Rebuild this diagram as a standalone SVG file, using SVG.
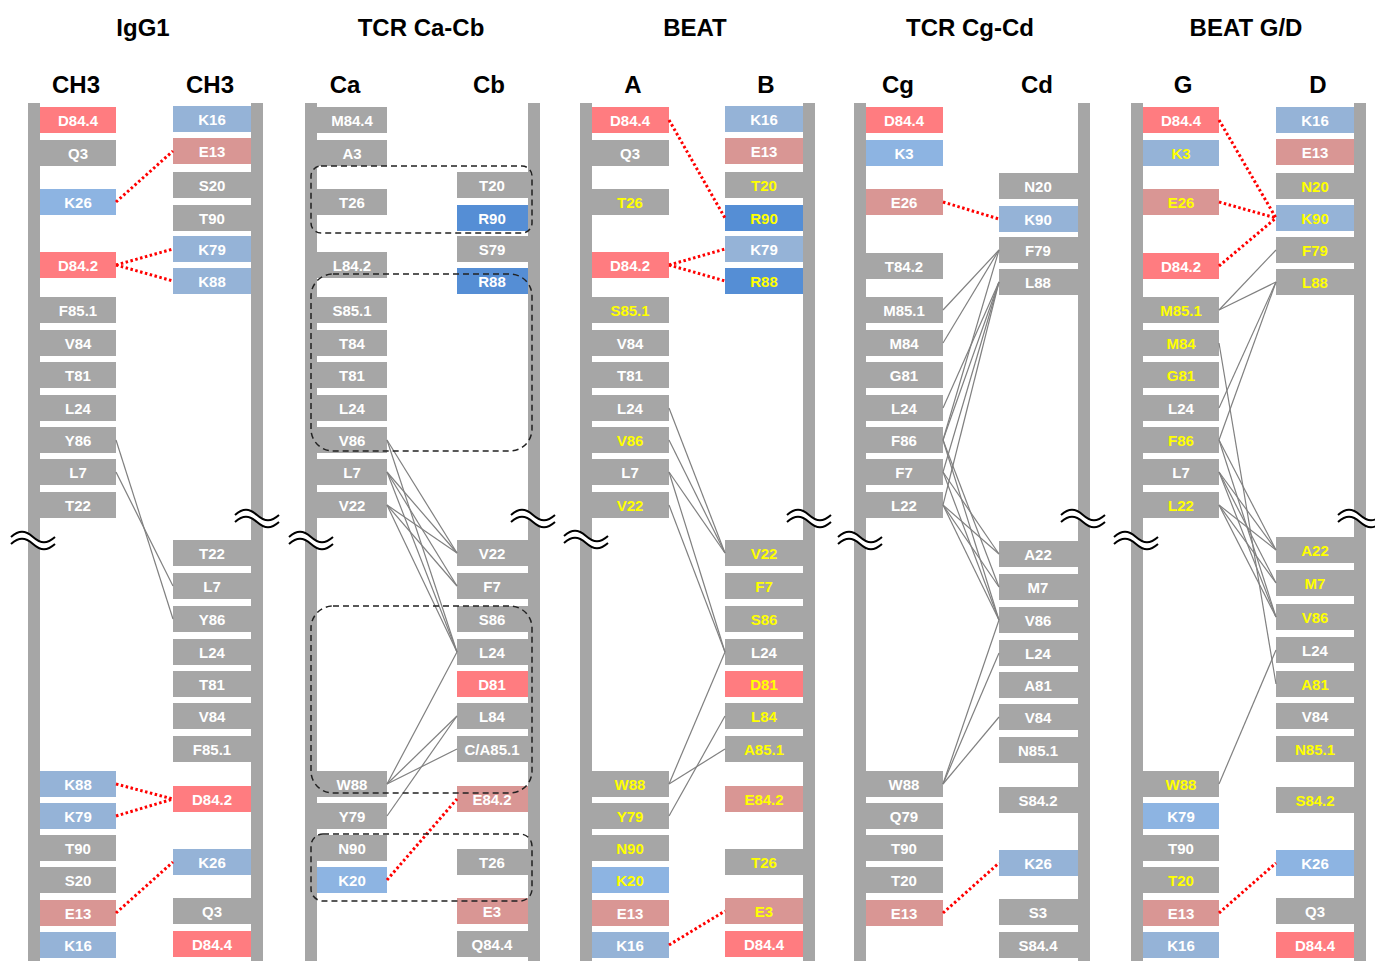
<svg xmlns="http://www.w3.org/2000/svg" xmlns:xlink="http://www.w3.org/1999/xlink" width="1375" height="961" viewBox="0 0 1375 961">
<style>
.bar{fill:#A6A6A6}
.g{fill:#A6A6A6}.r{fill:#FF7C80}.m{fill:#D99694}.lb{fill:#95B3D7}.b{fill:#8DB4E2}.db{fill:#558ED5}
text{font-family:"Liberation Sans",Arial,sans-serif;font-weight:bold;text-anchor:middle;dominant-baseline:central}
.t{font-size:15px;fill:#FFFFFF}
.y{fill:#FFFF00}
.h1{font-size:24px;fill:#000}
.h2{font-size:24px;fill:#000}
.dot{stroke:#FF0000;stroke-width:3;stroke-dasharray:2.5 2.5;fill:none}
.ln{stroke:#808080;stroke-width:1.2;fill:none}
.dash{stroke:#222;stroke-width:1.5;stroke-dasharray:6 4;fill:none}
</style>
<defs>
<g id="brk">
<path d="M0,-3 C8,-10 14,-10 22,-3 C30,4 36,4 44,-3 L44,4 C36,11 30,11 22,4 C14,-3 8,-3 0,4 Z" fill="#fff"/>
<path d="M0,-3 C8,-10 14,-10 22,-3 C30,4 36,4 44,-3 M0,4 C8,-3 14,-3 22,4 C30,11 36,11 44,4" stroke="#000" stroke-width="2" fill="none"/>
</g>
</defs>
<rect width="1375" height="961" fill="#fff"/>

<!-- headers -->
<g id="titles">
<text class="h1" x="143" y="27">IgG1</text>
<text class="h1" x="421" y="27">TCR Ca-Cb</text>
<text class="h1" x="695" y="27">BEAT</text>
<text class="h1" x="970" y="27">TCR Cg-Cd</text>
<text class="h1" x="1246" y="27">BEAT G/D</text>
<text class="h2" x="76" y="84">CH3</text><text class="h2" x="210" y="84">CH3</text>
<text class="h2" x="345" y="84">Ca</text><text class="h2" x="489" y="84">Cb</text>
<text class="h2" x="633" y="84">A</text><text class="h2" x="766" y="84">B</text>
<text class="h2" x="898" y="84">Cg</text><text class="h2" x="1037" y="84">Cd</text>
<text class="h2" x="1183" y="84">G</text><text class="h2" x="1318" y="84">D</text>
</g>

<!-- bars -->
<g id="bars">
<rect class="bar" x="28" y="103" width="12" height="858"/><rect class="bar" x="251" y="103" width="12" height="858"/>
<rect class="bar" x="305" y="103" width="12" height="858"/><rect class="bar" x="528" y="103" width="12" height="858"/>
<rect class="bar" x="580" y="103" width="12" height="858"/><rect class="bar" x="803" y="103" width="12" height="858"/>
<rect class="bar" x="854" y="103" width="12" height="858"/><rect class="bar" x="1078" y="103" width="12" height="858"/>
<rect class="bar" x="1131" y="103" width="12" height="858"/><rect class="bar" x="1354" y="103" width="12" height="858"/>
</g>

<!-- Panel 1 IgG1 -->
<g id="p1L-D84.4"><rect class="r" x="40" y="107" width="76" height="26"/><text class="t" x="78" y="120">D84.4</text></g>
<g id="p1L-Q3"><rect class="g" x="40" y="140" width="76" height="26"/><text class="t" x="78" y="153">Q3</text></g>
<g id="p1L-K26"><rect class="b" x="40" y="189" width="76" height="26"/><text class="t" x="78" y="202">K26</text></g>
<g id="p1L-D84.2"><rect class="r" x="40" y="252" width="76" height="26"/><text class="t" x="78" y="265">D84.2</text></g>
<g id="p1L-F85.1"><rect class="g" x="40" y="297" width="76" height="26"/><text class="t" x="78" y="310">F85.1</text></g>
<g id="p1L-V84"><rect class="g" x="40" y="330" width="76" height="26"/><text class="t" x="78" y="343">V84</text></g>
<g id="p1L-T81"><rect class="g" x="40" y="362" width="76" height="26"/><text class="t" x="78" y="375">T81</text></g>
<g id="p1L-L24"><rect class="g" x="40" y="395" width="76" height="26"/><text class="t" x="78" y="408">L24</text></g>
<g id="p1L-Y86"><rect class="g" x="40" y="427" width="76" height="26"/><text class="t" x="78" y="440">Y86</text></g>
<g id="p1L-L7"><rect class="g" x="40" y="459" width="76" height="26"/><text class="t" x="78" y="472">L7</text></g>
<g id="p1L-T22"><rect class="g" x="40" y="492" width="76" height="26"/><text class="t" x="78" y="505">T22</text></g>
<g id="p1L-K88"><rect class="lb" x="40" y="771" width="76" height="26"/><text class="t" x="78" y="784">K88</text></g>
<g id="p1L-K79"><rect class="lb" x="40" y="803" width="76" height="26"/><text class="t" x="78" y="816">K79</text></g>
<g id="p1L-T90"><rect class="g" x="40" y="835" width="76" height="26"/><text class="t" x="78" y="848">T90</text></g>
<g id="p1L-S20"><rect class="g" x="40" y="867" width="76" height="26"/><text class="t" x="78" y="880">S20</text></g>
<g id="p1L-E13"><rect class="m" x="40" y="900" width="76" height="26"/><text class="t" x="78" y="913">E13</text></g>
<g id="p1L-K16"><rect class="lb" x="40" y="932" width="76" height="26"/><text class="t" x="78" y="945">K16</text></g>

<g id="p1R-K16"><rect class="lb" x="173" y="106" width="78" height="26"/><text class="t" x="212" y="119">K16</text></g>
<g id="p1R-E13"><rect class="m" x="173" y="138" width="78" height="26"/><text class="t" x="212" y="151">E13</text></g>
<g id="p1R-S20"><rect class="g" x="173" y="172" width="78" height="26"/><text class="t" x="212" y="185">S20</text></g>
<g id="p1R-T90"><rect class="g" x="173" y="205" width="78" height="26"/><text class="t" x="212" y="218">T90</text></g>
<g id="p1R-K79"><rect class="lb" x="173" y="236" width="78" height="26"/><text class="t" x="212" y="249">K79</text></g>
<g id="p1R-K88"><rect class="lb" x="173" y="268" width="78" height="26"/><text class="t" x="212" y="281">K88</text></g>
<g id="p1R-T22"><rect class="g" x="173" y="540" width="78" height="26"/><text class="t" x="212" y="553">T22</text></g>
<g id="p1R-L7"><rect class="g" x="173" y="573" width="78" height="26"/><text class="t" x="212" y="586">L7</text></g>
<g id="p1R-Y86"><rect class="g" x="173" y="606" width="78" height="26"/><text class="t" x="212" y="619">Y86</text></g>
<g id="p1R-L24"><rect class="g" x="173" y="639" width="78" height="26"/><text class="t" x="212" y="652">L24</text></g>
<g id="p1R-T81"><rect class="g" x="173" y="671" width="78" height="26"/><text class="t" x="212" y="684">T81</text></g>
<g id="p1R-V84"><rect class="g" x="173" y="703" width="78" height="26"/><text class="t" x="212" y="716">V84</text></g>
<g id="p1R-F85.1"><rect class="g" x="173" y="736" width="78" height="26"/><text class="t" x="212" y="749">F85.1</text></g>
<g id="p1R-D84.2"><rect class="r" x="173" y="786" width="78" height="26"/><text class="t" x="212" y="799">D84.2</text></g>
<g id="p1R-K26"><rect class="lb" x="173" y="849" width="78" height="26"/><text class="t" x="212" y="862">K26</text></g>
<g id="p1R-Q3"><rect class="g" x="173" y="898" width="78" height="26"/><text class="t" x="212" y="911">Q3</text></g>
<g id="p1R-D84.4"><rect class="r" x="173" y="931" width="78" height="26"/><text class="t" x="212" y="944">D84.4</text></g>

<!-- Panel 2 TCR Ca-Cb -->
<g id="p2L-M84.4"><rect class="g" x="317" y="107" width="70" height="26"/><text class="t" x="352" y="120">M84.4</text></g>
<g id="p2L-A3"><rect class="g" x="317" y="140" width="70" height="26"/><text class="t" x="352" y="153">A3</text></g>
<g id="p2L-T26"><rect class="g" x="317" y="189" width="70" height="26"/><text class="t" x="352" y="202">T26</text></g>
<g id="p2L-L84.2"><rect class="g" x="317" y="252" width="70" height="26"/><text class="t" x="352" y="265">L84.2</text></g>
<g id="p2L-S85.1"><rect class="g" x="317" y="297" width="70" height="26"/><text class="t" x="352" y="310">S85.1</text></g>
<g id="p2L-T84"><rect class="g" x="317" y="330" width="70" height="26"/><text class="t" x="352" y="343">T84</text></g>
<g id="p2L-T81"><rect class="g" x="317" y="362" width="70" height="26"/><text class="t" x="352" y="375">T81</text></g>
<g id="p2L-L24"><rect class="g" x="317" y="395" width="70" height="26"/><text class="t" x="352" y="408">L24</text></g>
<g id="p2L-V86"><rect class="g" x="317" y="427" width="70" height="26"/><text class="t" x="352" y="440">V86</text></g>
<g id="p2L-L7"><rect class="g" x="317" y="459" width="70" height="26"/><text class="t" x="352" y="472">L7</text></g>
<g id="p2L-V22"><rect class="g" x="317" y="492" width="70" height="26"/><text class="t" x="352" y="505">V22</text></g>
<g id="p2L-W88"><rect class="g" x="317" y="771" width="70" height="26"/><text class="t" x="352" y="784">W88</text></g>
<g id="p2L-Y79"><rect class="g" x="317" y="803" width="70" height="26"/><text class="t" x="352" y="816">Y79</text></g>
<g id="p2L-N90"><rect class="g" x="317" y="835" width="70" height="26"/><text class="t" x="352" y="848">N90</text></g>
<g id="p2L-K20"><rect class="b" x="317" y="867" width="70" height="26"/><text class="t" x="352" y="880">K20</text></g>

<g id="p2R-T20"><rect class="g" x="457" y="172" width="71" height="26"/><text class="t" x="492" y="185">T20</text></g>
<g id="p2R-R90"><rect class="db" x="457" y="205" width="71" height="26"/><text class="t" x="492" y="218">R90</text></g>
<g id="p2R-S79"><rect class="g" x="457" y="236" width="71" height="26"/><text class="t" x="492" y="249">S79</text></g>
<g id="p2R-R88"><rect class="db" x="457" y="268" width="71" height="26"/><text class="t" x="492" y="281">R88</text></g>
<g id="p2R-V22"><rect class="g" x="457" y="540" width="71" height="26"/><text class="t" x="492" y="553">V22</text></g>
<g id="p2R-F7"><rect class="g" x="457" y="573" width="71" height="26"/><text class="t" x="492" y="586">F7</text></g>
<g id="p2R-S86"><rect class="g" x="457" y="606" width="71" height="26"/><text class="t" x="492" y="619">S86</text></g>
<g id="p2R-L24"><rect class="g" x="457" y="639" width="71" height="26"/><text class="t" x="492" y="652">L24</text></g>
<g id="p2R-D81"><rect class="r" x="457" y="671" width="71" height="26"/><text class="t" x="492" y="684">D81</text></g>
<g id="p2R-L84"><rect class="g" x="457" y="703" width="71" height="26"/><text class="t" x="492" y="716">L84</text></g>
<g id="p2R-CA85.1"><rect class="g" x="457" y="736" width="71" height="26"/><text class="t" x="492" y="749">C/A85.1</text></g>
<g id="p2R-E84.2"><rect class="m" x="457" y="786" width="71" height="26"/><text class="t" x="492" y="799">E84.2</text></g>
<g id="p2R-T26"><rect class="g" x="457" y="849" width="71" height="26"/><text class="t" x="492" y="862">T26</text></g>
<g id="p2R-E3"><rect class="m" x="457" y="898" width="71" height="26"/><text class="t" x="492" y="911">E3</text></g>
<g id="p2R-Q84.4"><rect class="g" x="457" y="931" width="71" height="26"/><text class="t" x="492" y="944">Q84.4</text></g>

<!-- Panel 3 BEAT -->
<g id="p3L-D84.4"><rect class="r" x="592" y="107" width="77" height="26"/><text class="t" x="630" y="120">D84.4</text></g>
<g id="p3L-Q3"><rect class="g" x="592" y="140" width="77" height="26"/><text class="t" x="630" y="153">Q3</text></g>
<g id="p3L-T26"><rect class="g" x="592" y="189" width="77" height="26"/><text class="t y" x="630" y="202">T26</text></g>
<g id="p3L-D84.2"><rect class="r" x="592" y="252" width="77" height="26"/><text class="t" x="630" y="265">D84.2</text></g>
<g id="p3L-S85.1"><rect class="g" x="592" y="297" width="77" height="26"/><text class="t y" x="630" y="310">S85.1</text></g>
<g id="p3L-V84"><rect class="g" x="592" y="330" width="77" height="26"/><text class="t" x="630" y="343">V84</text></g>
<g id="p3L-T81"><rect class="g" x="592" y="362" width="77" height="26"/><text class="t" x="630" y="375">T81</text></g>
<g id="p3L-L24"><rect class="g" x="592" y="395" width="77" height="26"/><text class="t" x="630" y="408">L24</text></g>
<g id="p3L-V86"><rect class="g" x="592" y="427" width="77" height="26"/><text class="t y" x="630" y="440">V86</text></g>
<g id="p3L-L7"><rect class="g" x="592" y="459" width="77" height="26"/><text class="t" x="630" y="472">L7</text></g>
<g id="p3L-V22"><rect class="g" x="592" y="492" width="77" height="26"/><text class="t y" x="630" y="505">V22</text></g>
<g id="p3L-W88"><rect class="g" x="592" y="771" width="77" height="26"/><text class="t y" x="630" y="784">W88</text></g>
<g id="p3L-Y79"><rect class="g" x="592" y="803" width="77" height="26"/><text class="t y" x="630" y="816">Y79</text></g>
<g id="p3L-N90"><rect class="g" x="592" y="835" width="77" height="26"/><text class="t y" x="630" y="848">N90</text></g>
<g id="p3L-K20"><rect class="b" x="592" y="867" width="77" height="26"/><text class="t y" x="630" y="880">K20</text></g>
<g id="p3L-E13"><rect class="m" x="592" y="900" width="77" height="26"/><text class="t" x="630" y="913">E13</text></g>
<g id="p3L-K16"><rect class="lb" x="592" y="932" width="77" height="26"/><text class="t" x="630" y="945">K16</text></g>

<g id="p3R-K16"><rect class="lb" x="725" y="106" width="78" height="26"/><text class="t" x="764" y="119">K16</text></g>
<g id="p3R-E13"><rect class="m" x="725" y="138" width="78" height="26"/><text class="t" x="764" y="151">E13</text></g>
<g id="p3R-T20"><rect class="g" x="725" y="172" width="78" height="26"/><text class="t y" x="764" y="185">T20</text></g>
<g id="p3R-R90"><rect class="db" x="725" y="205" width="78" height="26"/><text class="t y" x="764" y="218">R90</text></g>
<g id="p3R-K79"><rect class="lb" x="725" y="236" width="78" height="26"/><text class="t" x="764" y="249">K79</text></g>
<g id="p3R-R88"><rect class="db" x="725" y="268" width="78" height="26"/><text class="t y" x="764" y="281">R88</text></g>
<g id="p3R-V22"><rect class="g" x="725" y="540" width="78" height="26"/><text class="t y" x="764" y="553">V22</text></g>
<g id="p3R-F7"><rect class="g" x="725" y="573" width="78" height="26"/><text class="t y" x="764" y="586">F7</text></g>
<g id="p3R-S86"><rect class="g" x="725" y="606" width="78" height="26"/><text class="t y" x="764" y="619">S86</text></g>
<g id="p3R-L24"><rect class="g" x="725" y="639" width="78" height="26"/><text class="t" x="764" y="652">L24</text></g>
<g id="p3R-D81"><rect class="r" x="725" y="671" width="78" height="26"/><text class="t y" x="764" y="684">D81</text></g>
<g id="p3R-L84"><rect class="g" x="725" y="703" width="78" height="26"/><text class="t y" x="764" y="716">L84</text></g>
<g id="p3R-A85.1"><rect class="g" x="725" y="736" width="78" height="26"/><text class="t y" x="764" y="749">A85.1</text></g>
<g id="p3R-E84.2"><rect class="m" x="725" y="786" width="78" height="26"/><text class="t y" x="764" y="799">E84.2</text></g>
<g id="p3R-T26"><rect class="g" x="725" y="849" width="78" height="26"/><text class="t y" x="764" y="862">T26</text></g>
<g id="p3R-E3"><rect class="m" x="725" y="898" width="78" height="26"/><text class="t y" x="764" y="911">E3</text></g>
<g id="p3R-D84.4"><rect class="r" x="725" y="931" width="78" height="26"/><text class="t" x="764" y="944">D84.4</text></g>

<!-- Panel 4 TCR Cg-Cd -->
<g id="p4L-D84.4"><rect class="r" x="866" y="107" width="77" height="26"/><text class="t" x="904" y="120">D84.4</text></g>
<g id="p4L-K3"><rect class="b" x="866" y="140" width="77" height="26"/><text class="t" x="904" y="153">K3</text></g>
<g id="p4L-E26"><rect class="m" x="866" y="189" width="77" height="26"/><text class="t" x="904" y="202">E26</text></g>
<g id="p4L-T84.2"><rect class="g" x="866" y="253" width="77" height="26"/><text class="t" x="904" y="266">T84.2</text></g>
<g id="p4L-M85.1"><rect class="g" x="866" y="297" width="77" height="26"/><text class="t" x="904" y="310">M85.1</text></g>
<g id="p4L-M84"><rect class="g" x="866" y="330" width="77" height="26"/><text class="t" x="904" y="343">M84</text></g>
<g id="p4L-G81"><rect class="g" x="866" y="362" width="77" height="26"/><text class="t" x="904" y="375">G81</text></g>
<g id="p4L-L24"><rect class="g" x="866" y="395" width="77" height="26"/><text class="t" x="904" y="408">L24</text></g>
<g id="p4L-F86"><rect class="g" x="866" y="427" width="77" height="26"/><text class="t" x="904" y="440">F86</text></g>
<g id="p4L-F7"><rect class="g" x="866" y="459" width="77" height="26"/><text class="t" x="904" y="472">F7</text></g>
<g id="p4L-L22"><rect class="g" x="866" y="492" width="77" height="26"/><text class="t" x="904" y="505">L22</text></g>
<g id="p4L-W88"><rect class="g" x="866" y="771" width="77" height="26"/><text class="t" x="904" y="784">W88</text></g>
<g id="p4L-Q79"><rect class="g" x="866" y="803" width="77" height="26"/><text class="t" x="904" y="816">Q79</text></g>
<g id="p4L-T90"><rect class="g" x="866" y="835" width="77" height="26"/><text class="t" x="904" y="848">T90</text></g>
<g id="p4L-T20"><rect class="g" x="866" y="867" width="77" height="26"/><text class="t" x="904" y="880">T20</text></g>
<g id="p4L-E13"><rect class="m" x="866" y="900" width="77" height="26"/><text class="t" x="904" y="913">E13</text></g>

<g id="p4R-N20"><rect class="g" x="999" y="173" width="79" height="26"/><text class="t" x="1038" y="186">N20</text></g>
<g id="p4R-K90"><rect class="lb" x="999" y="206" width="79" height="26"/><text class="t" x="1038" y="219">K90</text></g>
<g id="p4R-F79"><rect class="g" x="999" y="237" width="79" height="26"/><text class="t" x="1038" y="250">F79</text></g>
<g id="p4R-L88"><rect class="g" x="999" y="269" width="79" height="26"/><text class="t" x="1038" y="282">L88</text></g>
<g id="p4R-A22"><rect class="g" x="999" y="541" width="79" height="26"/><text class="t" x="1038" y="554">A22</text></g>
<g id="p4R-M7"><rect class="g" x="999" y="574" width="79" height="26"/><text class="t" x="1038" y="587">M7</text></g>
<g id="p4R-V86"><rect class="g" x="999" y="607" width="79" height="26"/><text class="t" x="1038" y="620">V86</text></g>
<g id="p4R-L24"><rect class="g" x="999" y="640" width="79" height="26"/><text class="t" x="1038" y="653">L24</text></g>
<g id="p4R-A81"><rect class="g" x="999" y="672" width="79" height="26"/><text class="t" x="1038" y="685">A81</text></g>
<g id="p4R-V84"><rect class="g" x="999" y="704" width="79" height="26"/><text class="t" x="1038" y="717">V84</text></g>
<g id="p4R-N85.1"><rect class="g" x="999" y="737" width="79" height="26"/><text class="t" x="1038" y="750">N85.1</text></g>
<g id="p4R-S84.2"><rect class="g" x="999" y="787" width="79" height="26"/><text class="t" x="1038" y="800">S84.2</text></g>
<g id="p4R-K26"><rect class="lb" x="999" y="850" width="79" height="26"/><text class="t" x="1038" y="863">K26</text></g>
<g id="p4R-S3"><rect class="g" x="999" y="899" width="79" height="26"/><text class="t" x="1038" y="912">S3</text></g>
<g id="p4R-S84.4"><rect class="g" x="999" y="932" width="79" height="26"/><text class="t" x="1038" y="945">S84.4</text></g>

<!-- Panel 5 BEAT G/D -->
<g id="p5L-D84.4"><rect class="r" x="1143" y="107" width="76" height="26"/><text class="t" x="1181" y="120">D84.4</text></g>
<g id="p5L-K3"><rect class="lb" x="1143" y="140" width="76" height="26"/><text class="t y" x="1181" y="153">K3</text></g>
<g id="p5L-E26"><rect class="m" x="1143" y="189" width="76" height="26"/><text class="t y" x="1181" y="202">E26</text></g>
<g id="p5L-D84.2"><rect class="r" x="1143" y="253" width="76" height="26"/><text class="t" x="1181" y="266">D84.2</text></g>
<g id="p5L-M85.1"><rect class="g" x="1143" y="297" width="76" height="26"/><text class="t y" x="1181" y="310">M85.1</text></g>
<g id="p5L-M84"><rect class="g" x="1143" y="330" width="76" height="26"/><text class="t y" x="1181" y="343">M84</text></g>
<g id="p5L-G81"><rect class="g" x="1143" y="362" width="76" height="26"/><text class="t y" x="1181" y="375">G81</text></g>
<g id="p5L-L24"><rect class="g" x="1143" y="395" width="76" height="26"/><text class="t" x="1181" y="408">L24</text></g>
<g id="p5L-F86"><rect class="g" x="1143" y="427" width="76" height="26"/><text class="t y" x="1181" y="440">F86</text></g>
<g id="p5L-L7"><rect class="g" x="1143" y="459" width="76" height="26"/><text class="t" x="1181" y="472">L7</text></g>
<g id="p5L-L22"><rect class="g" x="1143" y="492" width="76" height="26"/><text class="t y" x="1181" y="505">L22</text></g>
<g id="p5L-W88"><rect class="g" x="1143" y="771" width="76" height="26"/><text class="t y" x="1181" y="784">W88</text></g>
<g id="p5L-K79"><rect class="b" x="1143" y="803" width="76" height="26"/><text class="t" x="1181" y="816">K79</text></g>
<g id="p5L-T90"><rect class="g" x="1143" y="835" width="76" height="26"/><text class="t" x="1181" y="848">T90</text></g>
<g id="p5L-T20"><rect class="g" x="1143" y="867" width="76" height="26"/><text class="t y" x="1181" y="880">T20</text></g>
<g id="p5L-E13"><rect class="m" x="1143" y="900" width="76" height="26"/><text class="t" x="1181" y="913">E13</text></g>
<g id="p5L-K16"><rect class="lb" x="1143" y="932" width="76" height="26"/><text class="t" x="1181" y="945">K16</text></g>

<g id="p5R-K16"><rect class="lb" x="1276" y="107" width="78" height="26"/><text class="t" x="1315" y="120">K16</text></g>
<g id="p5R-E13"><rect class="m" x="1276" y="139" width="78" height="26"/><text class="t" x="1315" y="152">E13</text></g>
<g id="p5R-N20"><rect class="g" x="1276" y="173" width="78" height="26"/><text class="t y" x="1315" y="186">N20</text></g>
<g id="p5R-K90"><rect class="lb" x="1276" y="205" width="78" height="26"/><text class="t y" x="1315" y="218">K90</text></g>
<g id="p5R-F79"><rect class="g" x="1276" y="237" width="78" height="26"/><text class="t y" x="1315" y="250">F79</text></g>
<g id="p5R-L88"><rect class="g" x="1276" y="269" width="78" height="26"/><text class="t y" x="1315" y="282">L88</text></g>
<g id="p5R-A22"><rect class="g" x="1276" y="537" width="78" height="26"/><text class="t y" x="1315" y="550">A22</text></g>
<g id="p5R-M7"><rect class="g" x="1276" y="570" width="78" height="26"/><text class="t y" x="1315" y="583">M7</text></g>
<g id="p5R-V86"><rect class="g" x="1276" y="604" width="78" height="26"/><text class="t y" x="1315" y="617">V86</text></g>
<g id="p5R-L24"><rect class="g" x="1276" y="637" width="78" height="26"/><text class="t" x="1315" y="650">L24</text></g>
<g id="p5R-A81"><rect class="g" x="1276" y="671" width="78" height="26"/><text class="t y" x="1315" y="684">A81</text></g>
<g id="p5R-V84"><rect class="g" x="1276" y="703" width="78" height="26"/><text class="t" x="1315" y="716">V84</text></g>
<g id="p5R-N85.1"><rect class="g" x="1276" y="736" width="78" height="26"/><text class="t y" x="1315" y="749">N85.1</text></g>
<g id="p5R-S84.2"><rect class="g" x="1276" y="787" width="78" height="26"/><text class="t y" x="1315" y="800">S84.2</text></g>
<g id="p5R-K26"><rect class="b" x="1276" y="850" width="78" height="26"/><text class="t" x="1315" y="863">K26</text></g>
<g id="p5R-Q3"><rect class="g" x="1276" y="898" width="78" height="26"/><text class="t" x="1315" y="911">Q3</text></g>
<g id="p5R-D84.4"><rect class="r" x="1276" y="932" width="78" height="26"/><text class="t" x="1315" y="945">D84.4</text></g>

<!-- break marks -->
<g id="breaks">
<use xlink:href="#brk" href="#brk" transform="translate(11,540)"/>
<use xlink:href="#brk" href="#brk" transform="translate(235,518)"/>
<use xlink:href="#brk" href="#brk" transform="translate(289,540)"/>
<use xlink:href="#brk" href="#brk" transform="translate(511,518)"/>
<use xlink:href="#brk" href="#brk" transform="translate(564,539)"/>
<use xlink:href="#brk" href="#brk" transform="translate(787,518)"/>
<use xlink:href="#brk" href="#brk" transform="translate(838,540)"/>
<use xlink:href="#brk" href="#brk" transform="translate(1061,518)"/>
<use xlink:href="#brk" href="#brk" transform="translate(1114,540)"/>
<use xlink:href="#brk" href="#brk" transform="translate(1338,518)"/>
</g>

<!-- connectors -->
<g id="connectors">
<!-- IgG1 -->
<line class="dot" x1="116" y1="202" x2="173" y2="151"/>
<line class="dot" x1="116" y1="265" x2="173" y2="249"/>
<line class="dot" x1="116" y1="265" x2="173" y2="281"/>
<line class="dot" x1="116" y1="784" x2="173" y2="799"/>
<line class="dot" x1="116" y1="816" x2="173" y2="799"/>
<line class="dot" x1="116" y1="913" x2="173" y2="862"/>
<line class="ln" x1="116" y1="440" x2="173" y2="619"/>
<line class="ln" x1="116" y1="472" x2="173" y2="586"/>
<!-- TCR Ca-Cb -->
<line class="dot" x1="387" y1="880" x2="457" y2="799"/>
<line class="ln" x1="387" y1="440" x2="457" y2="553"/>
<line class="ln" x1="387" y1="440" x2="457" y2="652"/>
<line class="ln" x1="387" y1="472" x2="457" y2="553"/>
<line class="ln" x1="387" y1="472" x2="457" y2="586"/>
<line class="ln" x1="387" y1="472" x2="457" y2="652"/>
<line class="ln" x1="387" y1="505" x2="457" y2="553"/>
<line class="ln" x1="387" y1="505" x2="457" y2="586"/>
<line class="ln" x1="387" y1="505" x2="457" y2="652"/>
<line class="ln" x1="387" y1="784" x2="457" y2="652"/>
<line class="ln" x1="387" y1="784" x2="457" y2="716"/>
<line class="ln" x1="387" y1="784" x2="457" y2="749"/>
<line class="ln" x1="387" y1="816" x2="457" y2="716"/>
<!-- BEAT -->
<line class="dot" x1="669" y1="120" x2="725" y2="218"/>
<line class="dot" x1="669" y1="265" x2="725" y2="249"/>
<line class="dot" x1="669" y1="265" x2="725" y2="281"/>
<line class="dot" x1="669" y1="945" x2="725" y2="911"/>
<line class="ln" x1="669" y1="408" x2="725" y2="553"/>
<line class="ln" x1="669" y1="440" x2="725" y2="553"/>
<line class="ln" x1="669" y1="472" x2="725" y2="553"/>
<line class="ln" x1="669" y1="472" x2="725" y2="652"/>
<line class="ln" x1="669" y1="505" x2="725" y2="652"/>
<line class="ln" x1="669" y1="784" x2="725" y2="652"/>
<line class="ln" x1="669" y1="784" x2="725" y2="749"/>
<line class="ln" x1="669" y1="816" x2="725" y2="716"/>
<!-- TCR Cg-Cd -->
<line class="dot" x1="943" y1="202" x2="999" y2="219"/>
<line class="dot" x1="943" y1="913" x2="999" y2="863"/>
<line class="ln" x1="999" y1="250" x2="943" y2="310"/>
<line class="ln" x1="999" y1="250" x2="943" y2="343"/>
<line class="ln" x1="999" y1="250" x2="943" y2="440"/>
<line class="ln" x1="999" y1="282" x2="943" y2="408"/>
<line class="ln" x1="999" y1="282" x2="943" y2="440"/>
<line class="ln" x1="999" y1="282" x2="943" y2="472"/>
<line class="ln" x1="999" y1="282" x2="943" y2="505"/>
<line class="ln" x1="943" y1="440" x2="999" y2="587"/>
<line class="ln" x1="943" y1="440" x2="999" y2="620"/>
<line class="ln" x1="943" y1="472" x2="999" y2="554"/>
<line class="ln" x1="943" y1="472" x2="999" y2="620"/>
<line class="ln" x1="943" y1="505" x2="999" y2="554"/>
<line class="ln" x1="943" y1="505" x2="999" y2="587"/>
<line class="ln" x1="943" y1="505" x2="999" y2="620"/>
<line class="ln" x1="943" y1="784" x2="999" y2="620"/>
<line class="ln" x1="943" y1="784" x2="999" y2="653"/>
<line class="ln" x1="943" y1="784" x2="999" y2="717"/>
<!-- BEAT G/D -->
<line class="dot" x1="1219" y1="120" x2="1276" y2="218"/>
<line class="dot" x1="1219" y1="202" x2="1276" y2="218"/>
<line class="dot" x1="1219" y1="266" x2="1276" y2="218"/>
<line class="dot" x1="1219" y1="913" x2="1276" y2="863"/>
<line class="ln" x1="1219" y1="310" x2="1276" y2="250"/>
<line class="ln" x1="1219" y1="310" x2="1276" y2="282"/>
<line class="ln" x1="1219" y1="408" x2="1276" y2="282"/>
<line class="ln" x1="1219" y1="440" x2="1276" y2="282"/>
<line class="ln" x1="1219" y1="343" x2="1276" y2="684"/>
<line class="ln" x1="1219" y1="440" x2="1276" y2="550"/>
<line class="ln" x1="1219" y1="440" x2="1276" y2="617"/>
<line class="ln" x1="1219" y1="472" x2="1276" y2="550"/>
<line class="ln" x1="1219" y1="472" x2="1276" y2="583"/>
<line class="ln" x1="1219" y1="472" x2="1276" y2="617"/>
<line class="ln" x1="1219" y1="505" x2="1276" y2="550"/>
<line class="ln" x1="1219" y1="505" x2="1276" y2="583"/>
<line class="ln" x1="1219" y1="505" x2="1276" y2="617"/>
<line class="ln" x1="1219" y1="784" x2="1276" y2="650"/>
</g>

<!-- dashed groupings -->
<g id="groupings">
<rect class="dash" x="311" y="166" width="221" height="67" rx="10"/>
<rect class="dash" x="311" y="274" width="221" height="177" rx="22"/>
<rect class="dash" x="311" y="606" width="221" height="187" rx="22"/>
<rect class="dash" x="311" y="834" width="221" height="67" rx="12"/>
</g>
</svg>
